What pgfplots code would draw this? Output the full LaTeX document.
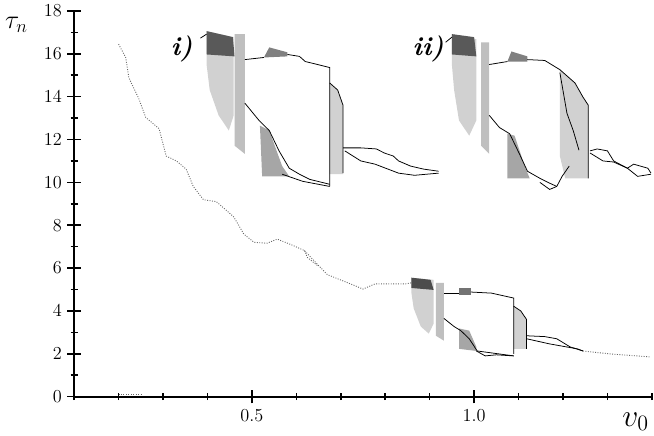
\documentclass[border=0pt]{standalone}
\usepackage{pgfplots}
\pgfplotsset{compat=1.18}
\begin{document}
\begin{tikzpicture}
\begin{axis}[
    scale only axis,
    width=379pt, height=253pt,
    xmin=0.1, xmax=1.4, ymin=0, ymax=18,
    axis lines=left,
    axis line style={-, line width=1.2pt},
    clip=false,
    xtick={0.5,1.0}, xticklabels={0.5,1.0},
    minor xtick={0.1,0.2,0.3,0.4,0.6,0.7,0.8,0.9,1.1,1.2,1.3,1.4},
    ytick={0,2,4,6,8,10,12,14,16,18},
    minor ytick={1,3,5,7,9,11,13,15,17},
    tick align=center,
    major tick length=9pt, minor tick length=4.5pt,
    tick style={black, line width=1pt},
    tick label style={font=\large},
    xlabel={\huge$v_0$},
    x label style={at={(axis description cs:0.972,-0.065)}, anchor=center},
    ylabel={\LARGE$\tau_n$},
    y label style={rotate=-90, at={(axis description cs:-0.1,0.965)}, anchor=center},
    line width=0.5pt,
]
% main branch
\addplot[black!60, densely dotted, line width=0.6pt] coordinates {(0.200,16.45) (0.216,15.83) (0.223,14.88) (0.245,13.93) (0.261,13.03) (0.291,12.51) (0.307,11.23) (0.330,11.00) (0.352,10.62) (0.368,9.81) (0.391,9.19) (0.420,9.10) (0.459,8.39) (0.482,7.58) (0.505,7.20) (0.534,7.16) (0.557,7.35) (0.586,7.11) (0.618,6.82) (0.648,6.16) (0.670,5.69) (0.716,5.31) (0.750,5.02) (0.777,5.26) (0.845,5.26) (0.859,5.31)};
\addplot[black!60, densely dotted, line width=0.6pt] coordinates {(0.618,6.82) (0.625,6.49) (0.648,6.11)};
\addplot[black!60, densely dotted, line width=0.6pt] coordinates {(0.200,0.10) (0.250,0.10)};

% lower structure
\addplot[draw=none, fill=black!18] coordinates {(0.859,5.55) (0.909,5.45) (0.909,3.41) (0.898,2.94) (0.880,3.27) (0.864,4.12) (0.859,4.83)} -- cycle;
\addplot[draw=none, fill=black!70] coordinates {(0.859,5.55) (0.902,5.45) (0.909,4.98) (0.859,5.07)} -- cycle;
\addplot[draw=none, fill=black!25] coordinates {(0.914,5.31) (0.932,5.31) (0.932,2.61) (0.914,2.84)} -- cycle;
\addplot[draw=none, fill=black!55] coordinates {(0.966,5.07) (0.993,5.07) (0.993,4.74) (0.966,4.74)} -- cycle;
\addplot[draw=none, fill=black!18] coordinates {(1.089,4.22) (1.105,4.00) (1.118,3.60) (1.118,2.23) (1.089,2.23)} -- cycle;
\addplot[draw=none, fill=black!35] coordinates {(0.966,3.18) (0.989,3.08) (1.005,2.32) (1.005,2.13) (0.966,2.23)} -- cycle;
\addplot[black] coordinates {(0.932,4.83) (0.966,4.83)};
\addplot[black] coordinates {(0.993,4.88) (1.039,4.83) (1.089,4.60) (1.089,1.99)};
\addplot[black] coordinates {(1.089,4.22) (1.105,4.00) (1.118,3.60) (1.118,2.23)};
\addplot[black] coordinates {(0.932,3.65) (0.955,3.27) (0.970,3.08) (0.989,2.70) (1.007,2.13) (1.039,2.04) (1.089,1.90)};
\addplot[black] coordinates {(1.005,2.13) (1.025,1.90) (1.050,1.95) (1.089,1.90)};
\addplot[black] coordinates {(1.118,2.84) (1.159,2.80) (1.186,2.70) (1.216,2.32) (1.245,2.13)};
\addplot[black] coordinates {(1.118,2.70) (1.170,2.46) (1.232,2.23) (1.245,2.13)};
\addplot[black!60, densely dotted, line width=0.6pt] coordinates {(1.245,2.13) (1.307,1.99) (1.398,1.85)};

% inset i)
\addplot[draw=none, fill=black!18] coordinates {(0.398,17.06) (0.459,16.78) (0.459,13.13) (0.448,12.42) (0.425,13.13) (0.405,14.31) (0.398,15.50)} -- cycle;
\addplot[draw=none, fill=black!65] coordinates {(0.398,17.06) (0.457,16.78) (0.461,15.88) (0.398,15.97)} -- cycle;
\addplot[draw=none, fill=black!25] coordinates {(0.461,16.92) (0.484,16.92) (0.484,11.33) (0.461,11.71)} -- cycle;
\addplot[draw=none, fill=black!50] coordinates {(0.527,15.83) (0.539,16.30) (0.580,16.07) (0.580,15.88)} -- cycle;
\addplot[draw=none, fill=black!18] coordinates {(0.675,14.64) (0.693,14.31) (0.705,13.60) (0.705,10.38) (0.675,10.38)} -- cycle;
\addplot[draw=none, fill=black!35] coordinates {(0.518,12.65) (0.539,12.42) (0.568,10.76) (0.584,10.28) (0.523,10.28)} -- cycle;
\addplot[black] coordinates {(0.484,15.73) (0.527,15.83)};
\addplot[black] coordinates {(0.580,15.97) (0.607,15.88) (0.620,15.64) (0.648,15.50) (0.675,15.36) (0.675,9.81)};
\addplot[black] coordinates {(0.675,14.64) (0.693,14.31) (0.705,13.60) (0.705,10.43)};
\addplot[black] coordinates {(0.484,13.70) (0.516,12.89) (0.539,12.42) (0.561,11.47) (0.584,10.66) (0.607,10.38) (0.630,10.14) (0.675,9.91)};
\addplot[black] coordinates {(0.568,10.38) (0.614,10.05) (0.675,9.81)};
\addplot[black] coordinates {(0.705,11.61) (0.745,11.61) (0.780,11.56) (0.798,11.37) (0.818,11.23) (0.830,11.00) (0.857,10.76) (0.886,10.62) (0.920,10.52)};
\addplot[black] coordinates {(0.709,11.47) (0.745,11.00) (0.777,10.85) (0.830,10.43) (0.866,10.33) (0.920,10.43)};
\addplot[black] coordinates {(0.384,16.73) (0.398,16.92)};

% inset ii)
\addplot[draw=none, fill=black!18] coordinates {(0.950,16.92) (1.005,16.68) (1.005,12.89) (0.989,12.18) (0.966,12.89) (0.955,14.31) (0.950,15.50)} -- cycle;
\addplot[draw=none, fill=black!65] coordinates {(0.950,16.92) (1.000,16.78) (1.005,15.88) (0.950,15.97)} -- cycle;
\addplot[draw=none, fill=black!25] coordinates {(1.016,16.54) (1.034,16.54) (1.034,11.33) (1.016,11.71)} -- cycle;
\addplot[draw=none, fill=black!50] coordinates {(1.075,15.64) (1.084,16.11) (1.120,15.88) (1.120,15.64)} -- cycle;
\addplot[draw=none, fill=black!18] coordinates {(1.193,15.26) (1.227,14.64) (1.245,13.98) (1.257,13.60) (1.257,10.19) (1.205,10.19) (1.193,11.23)} -- cycle;
\addplot[draw=none, fill=black!35] coordinates {(1.075,12.27) (1.091,12.18) (1.114,10.76) (1.125,10.19) (1.075,10.19)} -- cycle;
\addplot[black] coordinates {(1.034,15.50) (1.075,15.64)};
\addplot[black] coordinates {(1.120,15.73) (1.159,15.69) (1.193,15.26) (1.227,14.64) (1.245,13.98) (1.257,13.60) (1.257,10.19)};
\addplot[black] coordinates {(1.193,15.12) (1.209,13.22) (1.223,12.42) (1.236,11.50)};
\addplot[black] coordinates {(1.034,13.13) (1.057,12.56) (1.080,12.27) (1.102,11.33) (1.120,10.52) (1.148,10.19) (1.166,10.00) (1.186,9.81)};
\addplot[black] coordinates {(1.148,10.00) (1.170,9.67) (1.186,9.81) (1.198,10.28) (1.214,10.76)};
\addplot[black] coordinates {(1.261,11.47) (1.277,11.56) (1.300,11.47) (1.314,11.00) (1.345,10.66) (1.359,10.85) (1.391,10.66) (1.398,10.43)};
\addplot[black] coordinates {(1.261,11.37) (1.290,11.00) (1.314,10.95) (1.345,10.66) (1.368,10.28) (1.398,10.38)};
\addplot[black] coordinates {(0.936,16.54) (0.950,16.78)};

\node at (axis cs:0.342,16.25) {\LARGE\bfseries\itshape i)};
\node at (axis cs:0.897,16.25) {\LARGE\bfseries\itshape ii)};
\end{axis}
\end{tikzpicture}
\end{document}
